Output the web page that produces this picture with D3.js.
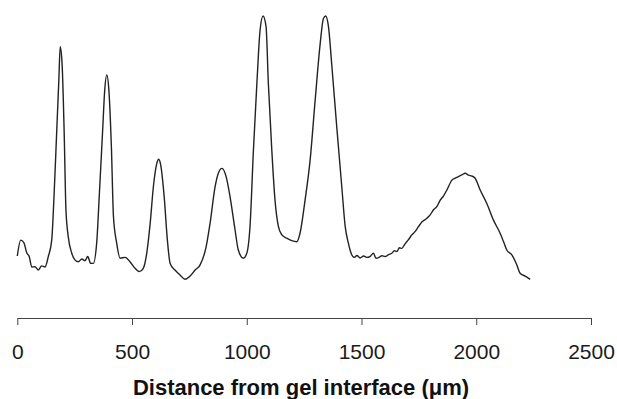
<!DOCTYPE html>
<html>
<head>
<meta charset="utf-8">
<script src="https://cdn.jsdelivr.net/npm/d3@7"></script>
<style>
	body { margin: 0; background: #fff; }
	svg { display: block; }
	.tick text { font-family: "Liberation Sans", Arial, sans-serif; font-size: 21px; fill: #1a1a1a; }
	.xtitle { font-family: "Liberation Sans", Arial, sans-serif; font-size: 22px; font-weight: bold; fill: #111; }
</style>
</head>
<body>
<div id="chart"></div>
<script>
// distance from gel interface (um) and intensity (arbitrary units, 0-100)
var distance = [0, 15, 29, 41, 52, 63, 77, 92, 106, 121, 135, 150, 160, 172, 181, 187, 195, 204, 212, 222,
	237, 252, 266, 281, 295, 307, 320, 331, 346, 357, 372, 381, 390, 398, 410, 419, 433, 448, 470, 491,
	513, 532, 549, 564, 579, 593, 608, 616, 625, 640, 654, 666, 687, 709, 731, 753, 775, 796, 823, 840,
	862, 876, 892, 910, 927, 949, 963, 985, 1000, 1014, 1029, 1044, 1058, 1071, 1084, 1094, 1109, 1123, 1138, 1153,
	1174, 1196, 1218, 1232, 1254, 1276, 1298, 1320, 1334, 1344, 1356, 1371, 1392, 1414, 1429, 1443, 1450, 1468, 1480, 1494,
	1509, 1523, 1538, 1552, 1563, 1574, 1589, 1603, 1618, 1632, 1643, 1654, 1665, 1676, 1687, 1697, 1708, 1719, 1734, 1748,
	1763, 1785, 1799, 1813, 1828, 1843, 1857, 1872, 1894, 1908, 1922, 1937, 1952, 1966, 1981, 1995, 2017, 2046, 2075, 2104,
	2120, 2133, 2155, 2177, 2191, 2213, 2235];
var intensity = [12.4, 18.2, 17.2, 13.6, 12.2, 8.4, 8.5, 7.3, 8.8, 8.4, 12.2, 18.2, 34.1, 58.4, 76.6, 88.8, 82.8, 58.4, 29.2, 19.5,
	13.5, 10.9, 10.3, 11.3, 10.7, 12.2, 9.7, 9.7, 17.2, 34.1, 58.4, 73.0, 78.5, 74.2, 52.3, 26.8, 17.2, 11.6, 11.9, 10.3,
	7.9, 6.7, 7.9, 13.4, 24.3, 37.7, 46.2, 47.7, 45.6, 34.1, 18.2, 9.7, 7.3, 5.5, 3.9, 5.1, 7.3, 9.1, 15.8, 24.3,
	37.7, 42.6, 44.4, 41.4, 34.1, 21.9, 14.6, 11.6, 13.4, 23.1, 51.1, 75.4, 94.9, 100, 96.1, 75.4, 51.1, 32.8, 23.1, 20.1,
	18.9, 18.0, 17.6, 20.7, 32.8, 47.4, 69.3, 90.0, 99.1, 100, 96.1, 81.5, 59.6, 37.7, 23.1, 17.0, 14.6, 11.9, 12.6, 11.7,
	12.4, 11.9, 12.3, 13.4, 11.6, 11.8, 12.5, 12.2, 12.9, 13.4, 14.3, 14.0, 15.4, 15.2, 16.5, 17.6, 18.8, 20.1, 21.4, 23.1,
	24.8, 26.2, 27.4, 29.2, 30.4, 32.8, 34.3, 36.5, 40.1, 40.8, 41.4, 42.0, 42.6, 41.9, 41.6, 40.8, 36.5, 31.6, 25.5, 20.7,
	17.4, 14.6, 12.8, 9.1, 6.1, 5.1, 3.9];

var xTicks = [0, 500, 1000, 1500, 2000, 2500];
var xTitle = "Distance from gel interface (\u03bcm)";

var width = 617, height = 399;

var svg = d3.select("#chart").append("svg")
	.attr("width", width)
	.attr("height", height);

var x = d3.scaleLinear().domain([0, 2500]).range([17.3, 591]);
var y = d3.scaleLinear().domain([0, 100]).range([290, 16]);

var points = distance.map(function(d, i) { return [d, intensity[i]]; });

// the trace
var line = d3.line()
	.x(function(d) { return x(d[0]); })
	.y(function(d) { return y(d[1]); })
	.curve(d3.curveMonotoneX);

svg.append("path")
	.datum(points)
	.attr("fill", "none")
	.attr("stroke", "#222")
	.attr("stroke-width", 1.4)
	.attr("stroke-linejoin", "round")
	.attr("d", line);

// x axis
var xAxis = svg.append("g")
	.attr("transform", "translate(0,318)")
	.call(d3.axisBottom(x)
		.tickValues(xTicks)
		.tickFormat(d3.format("d"))
		.tickSize(7)
		.tickSizeOuter(0)
		.tickPadding(19));

xAxis.select(".domain").attr("stroke", "#444");
xAxis.selectAll(".tick line").attr("stroke", "#444");

svg.append("text")
	.attr("class", "xtitle")
	.attr("x", 301)
	.attr("y", 395)
	.attr("text-anchor", "middle")
	.text(xTitle);
</script>
</body>
</html>
